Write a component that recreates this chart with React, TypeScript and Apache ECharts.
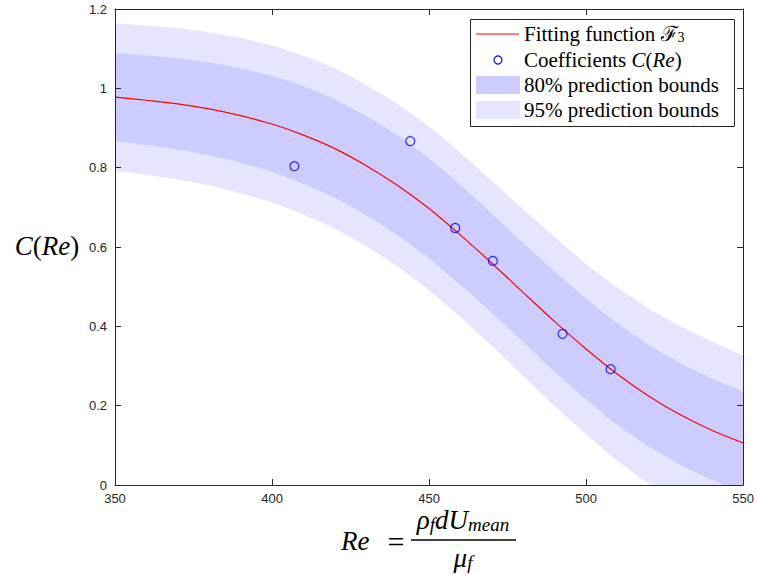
import React, { useEffect, useRef } from "react";
import * as echarts from "echarts";

// ---- data ----
const reGrid = [350, 360, 370, 380, 390, 400, 410, 420, 430, 440, 450, 460, 470, 480, 490, 500, 510, 520, 530, 540, 550];
const fitC = [0.978, 0.970, 0.961, 0.948, 0.931, 0.910, 0.882, 0.848, 0.805, 0.755, 0.697, 0.630, 0.559, 0.485, 0.412, 0.343, 0.279, 0.224, 0.177, 0.138, 0.106];
const hi80 = [1.089, 1.083, 1.076, 1.065, 1.050, 1.031, 1.005, 0.972, 0.930, 0.881, 0.823, 0.756, 0.684, 0.610, 0.538, 0.470, 0.407, 0.353, 0.307, 0.269, 0.236];
const lo80 = [0.867, 0.857, 0.846, 0.831, 0.812, 0.789, 0.759, 0.724, 0.680, 0.629, 0.571, 0.504, 0.434, 0.360, 0.286, 0.216, 0.151, 0.097, 0.051, 0.013, -0.020];
const hi95 = [1.164, 1.158, 1.152, 1.141, 1.127, 1.108, 1.082, 1.050, 1.008, 0.960, 0.903, 0.837, 0.767, 0.695, 0.625, 0.558, 0.497, 0.445, 0.400, 0.362, 0.327];
const lo95 = [0.792, 0.782, 0.770, 0.755, 0.735, 0.712, 0.682, 0.646, 0.602, 0.550, 0.491, 0.423, 0.351, 0.275, 0.199, 0.128, 0.061, 0.003, -0.046, -0.086, -0.119];

const sampleRe = [407.1, 444.0, 458.3, 470.3, 492.5, 507.8];
const sampleC = [0.804, 0.867, 0.648, 0.565, 0.381, 0.292];

const xTicks = { min: 350, max: 550, interval: 50 };
const yTicks = { min: 0, max: 1.2, interval: 0.2 };

const DARK = "#ccccff";
const LIGHT = "#e5e5ff";
const AX = "#262626";
const SERIF = "'Liberation Serif', 'DejaVu Serif', serif";
const SANS = "'Liberation Sans', Arial, sans-serif";

const pairs = (xs: number[], ys: number[]) => xs.map((x, i) => [x, ys[i]]);

export default function App() {
  const ref = useRef<HTMLDivElement>(null);

  useEffect(() => {
    if (!ref.current) return;
    const chart = echarts.init(ref.current, undefined, { renderer: "svg" });

    const axisCommon = {
      axisLine: { show: true, onZero: false, lineStyle: { color: AX, width: 1 } },
      axisTick: { show: true, inside: true, length: 6, lineStyle: { color: AX, width: 1 } },
      splitLine: { show: false },
      z: 10,
    };

    const areaSeries = (name: string, ys: number[], color: string) => ({
      type: "line",
      name,
      data: pairs(reGrid, ys),
      smooth: 0.3,
      symbol: "none",
      lineStyle: { width: 0 },
      areaStyle: { color, opacity: 1, origin: "start" },
      clip: true,
      silent: true,
      z: 1,
    });

    const mathSize = 27;
    const legendSize = 21;

    chart.setOption({
      animation: false,
      backgroundColor: "#ffffff",
      grid: { left: 115, right: 12, top: 9, bottom: 90, containLabel: false },
      xAxis: [
        {
          type: "value",
          position: "bottom",
          ...xTicks,
          ...axisCommon,
          axisLabel: { color: AX, fontSize: 13, fontFamily: SANS, margin: 7 },
        },
        {
          type: "value",
          position: "top",
          ...xTicks,
          ...axisCommon,
          axisLabel: { show: false },
        },
      ],
      yAxis: [
        {
          type: "value",
          position: "left",
          ...yTicks,
          ...axisCommon,
          axisLabel: { color: AX, fontSize: 13, fontFamily: SANS, margin: 8 },
        },
        {
          type: "value",
          position: "right",
          ...yTicks,
          ...axisCommon,
          axisLabel: { show: false },
        },
      ],
      series: [
        areaSeries("95% prediction bounds", hi95, LIGHT),
        areaSeries("80% prediction bounds", hi80, DARK),
        areaSeries("95% prediction bounds", lo80, LIGHT),
        areaSeries("below bounds", lo95, "#ffffff"),
        {
          type: "line",
          name: "Fitting function",
          data: pairs(reGrid, fitC),
          smooth: 0.3,
          symbol: "none",
          lineStyle: { color: "#ff0000", width: 1.2 },
          z: 3,
        },
        {
          type: "scatter",
          name: "Coefficients C(Re)",
          data: pairs(sampleRe, sampleC),
          symbol: "circle",
          symbolSize: 9,
          itemStyle: { color: "transparent", borderColor: "#0000ff", borderWidth: 1.2 },
          z: 4,
        },
      ],
      graphic: [
        // y-axis label C(Re)
        {
          type: "text",
          x: 47,
          y: 246,
          z: 100,
          style: {
            text: "{i|C}({i|Re})",
            fontFamily: SERIF,
            fontSize: mathSize,
            fill: "#000",
            align: "center",
            verticalAlign: "middle",
            rich: { i: { fontStyle: "italic", fontFamily: SERIF, fontSize: mathSize } },
          },
        },
        // x-axis label
        {
          type: "text",
          x: 341,
          y: 541,
          z: 100,
          style: {
            text: "Re",
            fontFamily: SERIF,
            fontStyle: "italic",
            fontSize: mathSize,
            fill: "#000",
            align: "left",
            verticalAlign: "middle",
          },
        },
        {
          type: "text",
          x: 396,
          y: 541,
          z: 100,
          style: {
            text: "=",
            fontFamily: SERIF,
            fontSize: 30,
            fill: "#000",
            align: "center",
            verticalAlign: "middle",
          },
        },
        {
          type: "text",
          x: 463,
          y: 520,
          z: 100,
          style: {
            text: "{i|ρ}{s|f}{i|dU}{s|mean}",
            fontFamily: SERIF,
            fontSize: mathSize,
            fill: "#000",
            align: "center",
            verticalAlign: "middle",
            rich: {
              i: { fontStyle: "italic", fontFamily: SERIF, fontSize: mathSize, lineHeight: 28 },
              s: { fontStyle: "italic", fontFamily: SERIF, fontSize: 19, lineHeight: 6, verticalAlign: "bottom" },
            },
          },
        },
        {
          type: "line",
          z: 100,
          shape: { x1: 411, y1: 540, x2: 516, y2: 540 },
          style: { stroke: "#000", lineWidth: 1.3 },
        },
        {
          type: "text",
          x: 463,
          y: 558,
          z: 100,
          style: {
            text: "{i|μ}{s|f}",
            fontFamily: SERIF,
            fontSize: mathSize,
            fill: "#000",
            align: "center",
            verticalAlign: "middle",
            rich: {
              i: { fontStyle: "italic", fontFamily: SERIF, fontSize: mathSize, lineHeight: 28 },
              s: { fontStyle: "italic", fontFamily: SERIF, fontSize: 19, lineHeight: 6, verticalAlign: "bottom" },
            },
          },
        },
        // legend
        {
          type: "group",
          z: 100,
          children: [
            {
              type: "rect",
              shape: { x: 470.5, y: 19.5, width: 264, height: 107 },
              style: { fill: "#ffffff", stroke: AX, lineWidth: 1 },
            },
            {
              type: "line",
              shape: { x1: 476, y1: 34, x2: 519, y2: 34 },
              style: { stroke: "#ff0000", lineWidth: 1.2 },
            },
            {
              type: "circle",
              shape: { cx: 498, cy: 60, r: 4 },
              style: { fill: "none", stroke: "#0000ff", lineWidth: 1.2 },
            },
            {
              type: "rect",
              shape: { x: 476, y: 76, width: 44, height: 18 },
              style: { fill: DARK },
            },
            {
              type: "rect",
              shape: { x: 476, y: 101, width: 44, height: 18 },
              style: { fill: LIGHT },
            },
            {
              type: "text",
              x: 524,
              y: 34,
              style: {
                text: "Fitting function {c|ℱ}{s|3}",
                fontFamily: SERIF,
                fontSize: legendSize,
                fill: "#000",
                align: "left",
                verticalAlign: "middle",
                rich: {
                  c: { fontFamily: SERIF, fontSize: legendSize, lineHeight: 20 },
                  s: { fontFamily: SERIF, fontSize: 14, lineHeight: 6, verticalAlign: "bottom" },
                },
              },
            },
            {
              type: "text",
              x: 524,
              y: 60,
              style: {
                text: "Coefficients {i|C}({i|Re})",
                fontFamily: SERIF,
                fontSize: legendSize,
                fill: "#000",
                align: "left",
                verticalAlign: "middle",
                rich: { i: { fontStyle: "italic", fontFamily: SERIF, fontSize: legendSize } },
              },
            },
            {
              type: "text",
              x: 524,
              y: 85,
              style: {
                text: "80% prediction bounds",
                fontFamily: SERIF,
                fontSize: legendSize,
                fill: "#000",
                align: "left",
                verticalAlign: "middle",
              },
            },
            {
              type: "text",
              x: 524,
              y: 110,
              style: {
                text: "95% prediction bounds",
                fontFamily: SERIF,
                fontSize: legendSize,
                fill: "#000",
                align: "left",
                verticalAlign: "middle",
              },
            },
          ],
        },
      ],
    });

    return () => chart.dispose();
  }, []);

  return (
    <div
      ref={ref}
      style={{ position: "fixed", left: 0, top: 0, width: 757, height: 575, background: "#fff" }}
    />
  );
}
